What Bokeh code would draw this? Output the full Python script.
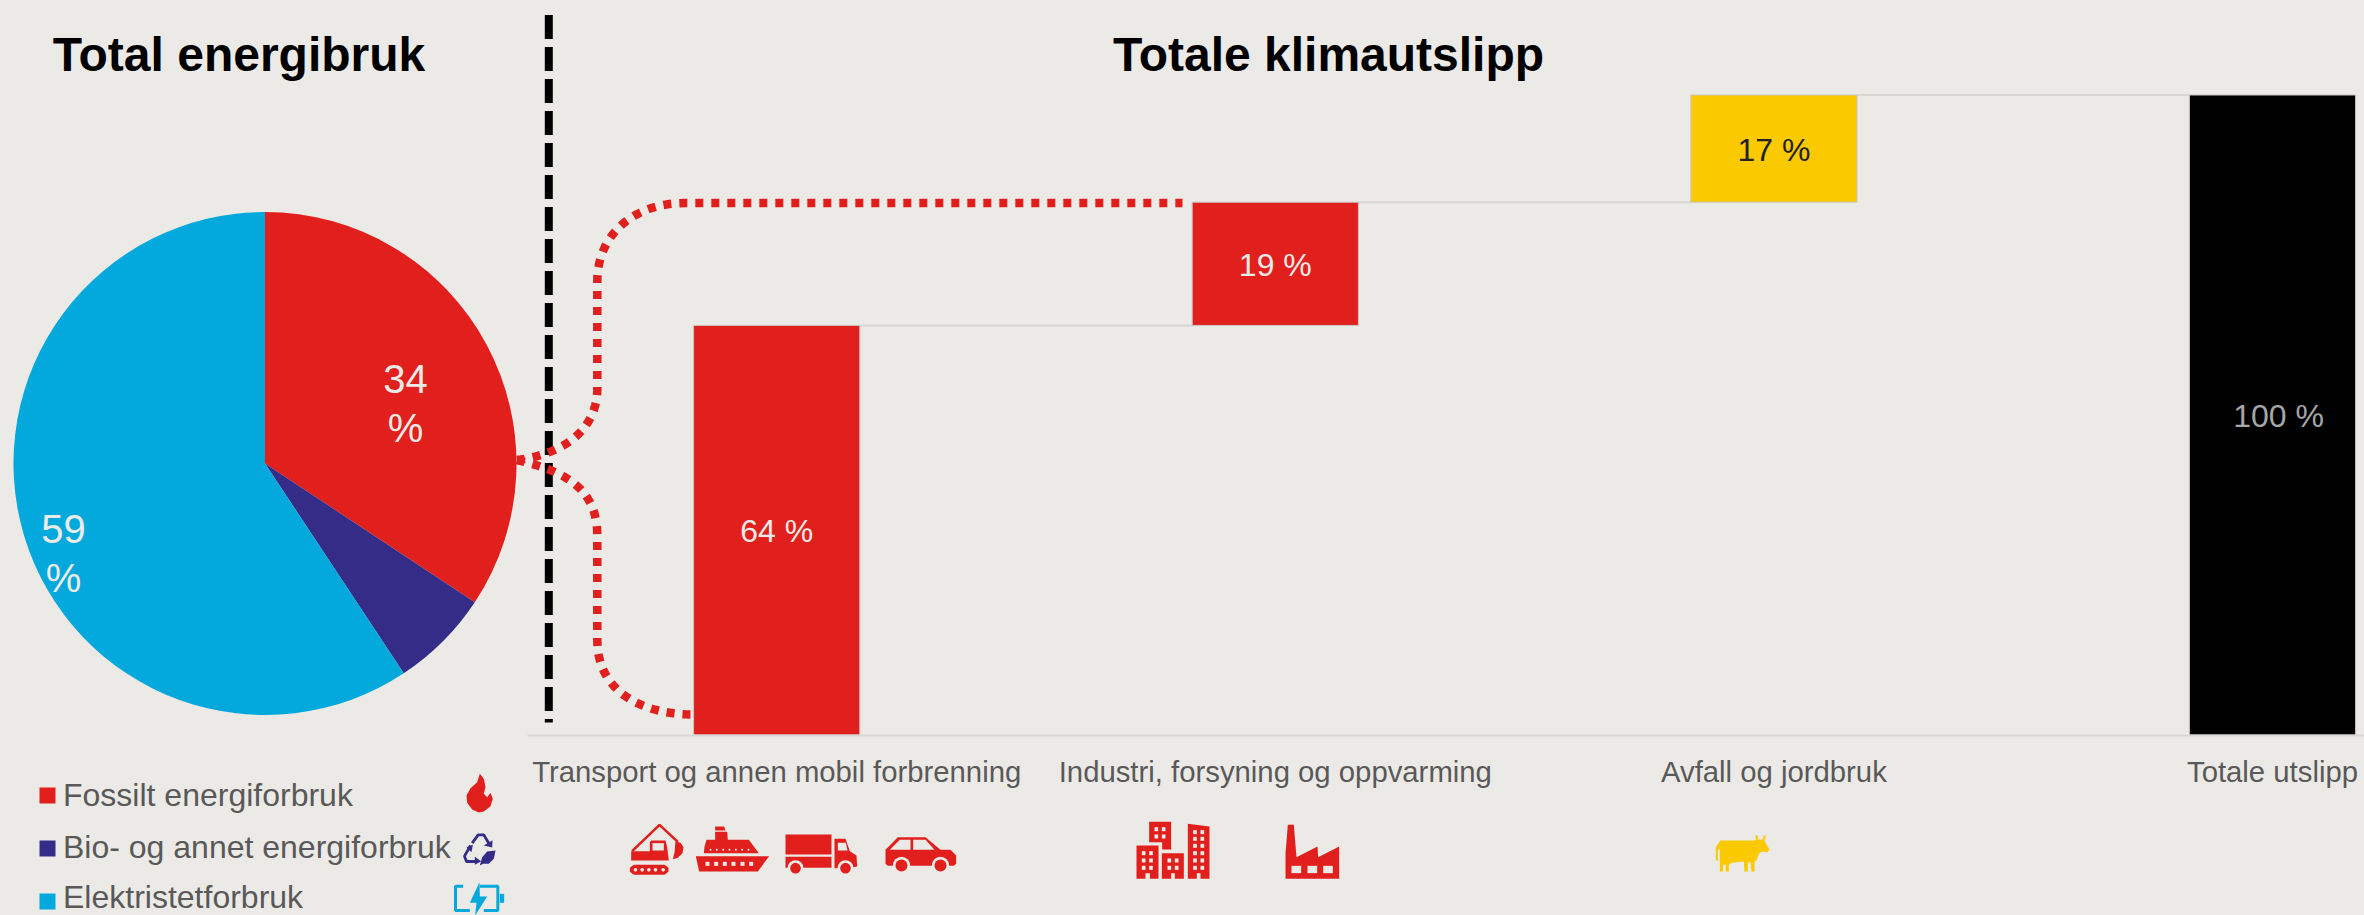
import numpy as np
from bokeh.plotting import figure
from bokeh.models import Range1d, LinearAxis, FixedTicker
from bokeh.core.properties import value
from bokeh.embed import file_html
from bokeh.resources import INLINE

# ---------- data ----------
categories = ["Transport og annen mobil forbrenning", "Industri, forsyning og oppvarming",
              "Avfall og jordbruk", "Totale utslipp"]
step_values = [64.0, 19.25, 16.75]
total_value = 100.0
bar_labels = ["64 %", "19 %", "17 %", "100 %"]
bar_colors = ["#E1201E", "#E1201E", "#FBC900", "#000000"]
bar_label_colors = ["#ECEAE6", "#ECEAE6", "#222222", "#A6A6A6"]

pie_values = [34.3, 6.4, 59.3]
pie_colors = ["#E1201E", "#342C87", "#03A9DC"]
pie_labels = ["34", "%", "59", "%"]
legend_labels = ["Fossilt energiforbruk", "Bio- og annet energiforbruk", "Elektristetforbruk"]

title_left = "Total energibruk"
title_right = "Totale klimautslipp"

BG = "#ECEAE6"
RED, PURPLE, CYAN, YELLOW = "#E1201E", "#342C87", "#03A9DC", "#FBC900"
FONT = value("Liberation Sans")
GREY = "#595959"

W, H = 2364, 915
X0, XSTEP = 776.2, 498.6     # page px of first category, px per category
Y0, YSTEP = 734.5, 6.4       # page px of 0, px per unit

p = figure(width=W, height=H, output_backend="svg", toolbar_location=None,
           x_axis_type=None, y_axis_type=None,
           x_range=Range1d((0 - X0) / XSTEP, (W - X0) / XSTEP),
           y_range=Range1d((Y0 - H) / YSTEP, (Y0 - 0) / YSTEP),
           background_fill_color=BG, border_fill_color=BG,
           min_border=0, outline_line_color=None)
p.grid.visible = False
p.extra_x_ranges["px"] = Range1d(0, W)
p.extra_y_ranges["py"] = Range1d(0, H)
PX = dict(x_range_name="px", y_range_name="py")


def up(y):
    return H - np.asarray(y, dtype=float)


def poly(pts, color, ox=0.0, oy=0.0, s=1.0):
    a = np.array(pts, dtype=float)
    p.patch(ox + a[:, 0] / s, up(oy + a[:, 1] / s), fill_color=color, line_color=None, **PX)


def line(pts, color, width, ox=0.0, oy=0.0, s=1.0):
    a = np.array(pts, dtype=float)
    p.line(ox + a[:, 0] / s, up(oy + a[:, 1] / s), line_color=color, line_width=width, **PX)


def rect(x0, y0, x1, y1, color, ox=0.0, oy=0.0, s=1.0):
    poly([(x0, y0), (x1, y0), (x1, y1), (x0, y1)], color, ox, oy, s)


def disc(cx, cy, r, color, ox=0.0, oy=0.0, s=1.0):
    p.circle(x=[ox + cx / s], y=up([oy + cy / s]), radius=r / s, fill_color=color, line_color=None, **PX)


def bez(a, b, c, d, n=40):
    t = np.linspace(0, 1, n)[:, None]
    a, b, c, d = map(np.array, (a, b, c, d))
    return (1 - t) ** 3 * a + 3 * (1 - t) ** 2 * t * b + 3 * (1 - t) * t ** 2 * c + t ** 3 * d


# ---------- waterfall ----------
tops = np.cumsum(step_values)
bottoms = tops - np.array(step_values)
xs = np.arange(4)
bar_top = list(tops) + [total_value]
bar_bottom = list(bottoms) + [0.0]
w = 1 / 3
for i in range(3):
    p.line([xs[i] + w / 2, xs[i + 1] - w / 2], [bar_top[i], bar_top[i]], line_color="#D9D7D6", line_width=2)
p.vbar(x=xs, top=bar_top, bottom=bar_bottom, width=w, fill_color=bar_colors, line_color="#C9C6C4", line_width=1)
mids = (np.array(bar_top) + np.array(bar_bottom)) / 2
p.text(x=xs, y=mids, text=bar_labels, text_color=bar_label_colors, text_font=FONT, y_offset=1,
       x_offset=[0, 0, 0, 6], text_font_size="32px", text_align="center", text_baseline="middle")

ax = LinearAxis(fixed_location=0, bounds=(-0.5, 3.5), ticker=FixedTicker(ticks=[0, 1, 2, 3]),
                major_label_overrides={i: c for i, c in enumerate(categories)},
                major_tick_line_color=None, minor_tick_line_color=None,
                axis_line_color="#D9D7D6", axis_line_width=2,
                major_label_text_font="Liberation Sans", major_label_text_font_size="29.3px",
                major_label_text_color=GREY, major_label_standoff=14)
p.add_layout(ax, "below")

# ---------- pie ----------
PCX, PCY, PR = 264.5, 463.0, 251.5
fr = np.cumsum([0] + pie_values) / sum(pie_values)
for i, c in enumerate(pie_colors):
    p.wedge(x=[PCX], y=up([PCY]), radius=PR, direction="clock",
            start_angle=np.pi / 2 - fr[i] * 2 * np.pi, end_angle=np.pi / 2 - fr[i + 1] * 2 * np.pi,
            fill_color=c, line_color=None, **PX)
p.text(x=[405, 405, 63, 63], y=up([378, 427.5, 528, 577]), text=pie_labels, text_color=BG, text_font=FONT,
       text_font_size="40px", text_align="center", text_baseline="middle", **PX)

# ---------- titles ----------
p.text(x=[238.5, 1328], y=up([54, 54]), text=[title_left, title_right], text_color="#000000", text_font=FONT,
       text_font_style="bold", text_font_size="48px", text_align="center", text_baseline="middle", **PX)

# ---------- divider + dotted connectors ----------
p.line([548.3, 548.3], up([14.5, 722]), line_color="#000000", line_width=8, line_dash="24 8", **PX)
upper = np.vstack([bez((516.4, 459.5), (567, 453), (596.8, 426.6), (596.8, 387.8)),
                   [(596.8, 281)],
                   bez((596.8, 281), (596.8, 232.7), (635, 202.6), (683.6, 202.6)),
                   [(1182, 202.6)]])
lower = np.vstack([bez((516.4, 459.5), (560, 470), (596.8, 485), (596.8, 535)),
                   [(596.8, 640)],
                   bez((596.8, 640), (596.8, 690), (640, 714), (693, 714))])
for path in (upper, lower):
    p.line(path[:, 0], up(path[:, 1]), line_color=RED, line_width=8.5, line_dash="8 8", **PX)

# ---------- legend ----------
swatch_y = [795, 848, 901]
legend_y = [794.5, 846.5, 896]
for y, c in zip(swatch_y, pie_colors):
    rect(39, y - 8, 55, y + 8, c)
p.text(x=[62.5] * 3, y=up(legend_y), text=legend_labels, text_color=GREY, text_font=FONT,
       text_font_size="32px", text_align="left", text_baseline="middle", **PX)

# ---------- icons: flame / recycle / battery ----------
o = dict(ox=440, oy=765, s=3)
poly([(118, 25), (130, 40), (135, 65), (130, 85), (140, 95), (150, 82), (157, 100), (150, 122), (130, 138),
      (115, 141), (95, 132), (80, 112), (78, 90), (90, 68), (110, 50)], RED, **o)
line([(95, 233), (113, 208), (130, 208), (147, 237)], PURPLE, 2.8, **o)
poly([(130, 240), (155, 246), (156, 224)], PURPLE, **o)
line([(90, 240), (72, 272), (78, 288), (106, 288)], PURPLE, 2.8, **o)
poly([(103, 274), (103, 298), (122, 287)], PURPLE, **o)
poly([(97, 238), (78, 245), (93, 260)], PURPLE, **o)
poly([(118, 300), (125, 275), (140, 258), (165, 255), (160, 280), (145, 295), (128, 295)], PURPLE, **o)
line([(68, 362), (45, 362), (45, 435), (88, 435)], CYAN, 3, **o)
line([(118, 362), (172, 362), (172, 435), (130, 435)], CYAN, 3, **o)
rect(178, 385, 191, 412, CYAN, **o)
poly([(117, 350), (88, 412), (108, 412), (104, 450), (140, 393), (118, 393)], CYAN, **o)

# ---------- excavator, ship ----------
o = dict(ox=620, oy=810, s=3)
line([(35, 122), (117, 43), (172, 94)], RED, 2.6, **o)
poly([(165, 92), (180, 97), (189, 110), (186, 128), (172, 142), (157, 146), (162, 125)], RED, **o)
poly([(32, 122), (88, 122), (88, 95), (92, 90), (135, 90), (140, 110), (145, 150), (32, 150)], RED, **o)
rect(96, 98, 130, 120, BG, **o)
poly([(40, 163), (132, 163), (144, 172), (144, 184), (132, 193), (40, 193), (28, 184), (28, 172)], RED, **o)
for cx in (45, 65, 85, 105, 128):
    disc(cx, 178, 5.5, BG, **o)
poly([(284, 48), (311, 48), (315, 60), (284, 60)], RED, **o)
poly([(284, 64), (320, 64), (322, 88), (385, 88), (415, 128), (250, 128), (252, 108), (258, 88), (284, 88)], RED, **o)
poly([(226, 137), (446, 137), (412, 183), (236, 183)], RED, **o)
for cx in (270, 289, 308, 327, 346, 365, 384):
    disc(cx, 118, 3, BG, **o)
for cx in (255, 281, 307, 333, 360, 386):
    rect(cx, 154, cx + 12, 166, BG, **o)

# ---------- truck, car ----------
o = dict(ox=810, oy=810, s=3)
rect(-75, 72, 63, 132, RED, **o)
rect(-75, 139, 63, 172, RED, **o)
poly([(72, 85), (105, 85), (118, 122), (138, 135), (140, 168), (130, 170), (72, 173)], RED, **o)
poly([(82, 97), (106, 97), (111, 120), (82, 120)], BG, **o)
for cx in (-45, 105):
    disc(cx, 173, 24, BG, **o)
    disc(cx, 173, 16, RED, **o)
poly([(225, 118), (262, 80), (345, 80), (390, 118), (420, 118), (437, 135), (437, 160), (430, 166), (232, 166), (225, 160)], RED, **o)
poly([(238, 118), (268, 88), (300, 88), (300, 118)], BG, **o)
poly([(308, 88), (345, 88), (372, 118), (308, 118)], BG, **o)
for cx in (273, 390):
    disc(cx, 165, 26, BG, **o)
    disc(cx, 165, 18, RED, **o)

# ---------- buildings, factory ----------
o = dict(ox=1120, oy=810, s=3)
poly([(86, 34), (152, 34), (152, 117), (125, 117), (125, 95), (86, 95)], RED, **o)
poly([(48, 105), (114, 105), (114, 205), (88, 205), (88, 188), (75, 188), (75, 205), (48, 205)], RED, **o)
poly([(124, 128), (190, 128), (190, 205), (163, 205), (163, 188), (152, 188), (152, 205), (124, 205)], RED, **o)
poly([(202, 40), (267, 48), (267, 205), (240, 205), (240, 188), (229, 188), (229, 205), (202, 205)], RED, **o)


def windows(cols, rows):
    for cx in cols:
        for cy in rows:
            rect(cx, cy, cx + 11, cy + 12, BG, **o)


windows((102, 124), (50, 72))
windows((64, 86), (122, 144, 166))
windows((141, 163), (144, 166))
windows((218, 240), (59, 79, 100, 122, 144, 166))
poly([(495, 205), (495, 130), (502, 43), (520, 43), (528, 140), (591, 108), (593, 140), (656, 108), (656, 205)], RED, **o)
for cx in (513, 561, 608):
    rect(cx, 166, cx + 29, 188, BG, **o)

# ---------- cow ----------
o = dict(ox=1700, oy=825, s=3)
poly([(60, 45), (163, 45), (170, 42), (190, 42), (207, 72), (200, 80), (185, 78), (175, 85), (168, 105), (162, 108),
      (162, 138), (153, 138), (150, 110), (142, 110), (142, 138), (132, 138), (130, 108), (95, 112), (85, 118),
      (85, 138), (76, 138), (76, 118), (68, 118), (68, 138), (58, 138), (58, 70), (52, 75), (52, 105), (46, 105),
      (46, 65)], YELLOW, **o)
poly([(165, 30), (171, 30), (173, 42), (165, 42)], YELLOW, **o)
poly([(190, 30), (196, 30), (194, 42), (186, 42)], YELLOW, **o)

html = file_html(p, INLINE)
html = html.replace("<head>", "<head><style>html,body{background:%s}</style>" % BG, 1)
open("out.html", "w").write(html)
